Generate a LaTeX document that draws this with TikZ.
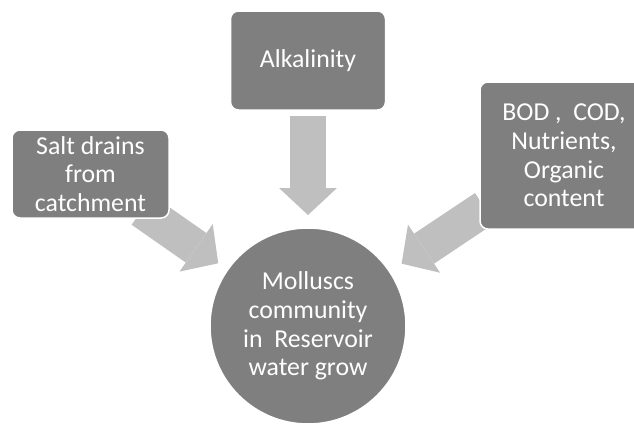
\documentclass[tikz,border=0pt]{standalone}
\usepackage{fontspec}
\setmainfont{Carlito}
\usetikzlibrary{arrows.meta, backgrounds}
\definecolor{boxgray}{RGB}{127,127,127}
\definecolor{arrowgray}{RGB}{191,191,191}
\tikzset{
  factor/.style={rectangle, rounded corners=8pt, fill=boxgray, draw=white, line width=1.5pt,
    text=white, align=center, inner sep=0pt, outer sep=0pt,
    font=\fontsize{25.8}{28.8}\selectfont},
  hub/.style={factor, circle, minimum size=196pt},
  blockarrow/.style={arrowgray, line width=36pt,
    -{Triangle[width=58pt, length=27pt, line width=0pt]}}
}

\begin{document}
\begin{tikzpicture}[x=1pt, y=-1pt]
  \useasboundingbox (0,0) rectangle (634,423);
  \node[factor, minimum width=155pt, minimum height=99pt] (alk) at (308,60.5) {Alkalinity};
  \node[factor, minimum width=157pt, minimum height=88pt] (salt) at (90.5,174) {Salt drains\\from\\catchment};
  \node[factor, minimum width=168pt, minimum height=147pt] (bod) at (564,155.5) {BOD ,~ COD,\\Nutrients,\\Organic\\content};
  \node[hub] (moll) at (308,326) {Molluscs\\community\\in~ Reservoir\\water grow};
  %
  \begin{scope}[on background layer]
    \draw[blockarrow, shorten <=6pt, shorten >=13pt] (alk) -- (moll);
    \draw[blockarrow, shorten <=-14pt, shorten >=11.5pt] (salt) -- (moll);
    \draw[blockarrow, shorten <=-6pt, shorten >=14.5pt] (bod) -- (moll);
  \end{scope}
\end{tikzpicture}
\end{document}
